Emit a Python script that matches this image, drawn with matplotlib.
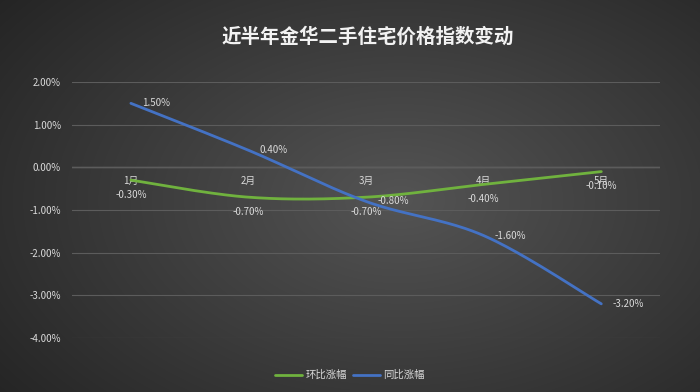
import numpy as np
import matplotlib
matplotlib.use('Agg')
import matplotlib.pyplot as plt

plt.rcParams['font.family'] = ['Noto Sans CJK SC', 'DejaVu Sans']

title = '近半年金华二手住宅价格指数变动'
months = ['1月', '2月', '3月', '4月', '5月']
hb = [-0.3, -0.7, -0.7, -0.4, -0.1]    # 环比涨幅
tb = [1.5, 0.4, -0.8, -1.6, -3.2]      # 同比涨幅
yticks = [2, 1, 0, -1, -2, -3, -4]

txt = '#d9d9d9'
green = '#70b23e'
blue = '#4472c4'


def smooth(ys, n=40):
    # excel-like bezier smoothing between the points
    p = np.column_stack([np.arange(len(ys)), ys]).astype(float)
    ext = np.vstack([p[0], p, p[-1]])
    out = []
    t = np.linspace(0, 1, n)[:, None]
    for i in range(len(p) - 1):
        p0, p1, p2, p3 = ext[i], ext[i + 1], ext[i + 2], ext[i + 3]
        c1 = p1 + (p2 - p0) / 6
        c2 = p2 - (p3 - p1) / 6
        seg = (1 - t) ** 3 * p1 + 3 * (1 - t) ** 2 * t * c1 + 3 * (1 - t) * t ** 2 * c2 + t ** 3 * p2
        out.append(seg)
    out = np.vstack(out)
    return out[:, 0], out[:, 1]


fig = plt.figure(figsize=(7, 3.92), dpi=100)

# radial gray background
bg = fig.add_axes([0, 0, 1, 1])
yy, xx = np.mgrid[0:392, 0:700]
r = np.sqrt(((xx - 400) / 520) ** 2 + ((yy - 200) / 330) ** 2)
val = np.clip(0.33 - 0.19 * r, 0.13, 0.35)
bg.imshow(np.dstack([val, val, val]), extent=[0, 700, 392, 0], aspect='auto')
bg.axis('off')

ax = fig.add_axes([0.103, 0.1378, 0.84, 0.653])
ax.set_facecolor('none')
ax.set_xlim(-0.5, 4.5)
ax.set_ylim(-4, 2)
ax.set_yticks(yticks)
ax.set_yticklabels(['%.2f%%' % v for v in yticks], color=txt, fontsize=7)
ax.tick_params(axis='y', length=0, pad=8)
ax.grid(axis='y', color='#5c5c5c', lw=0.8)
ax.axhline(0, color='#727272', lw=1.0, zorder=1)
for s in ax.spines.values():
    s.set_visible(False)
ax.spines['bottom'].set_position(('data', 0))
ax.set_xticks(range(len(months)))
ax.set_xticklabels(months, color=txt, fontsize=7)
ax.tick_params(axis='x', length=0, pad=6)

x1, y1 = smooth(hb)
x2, y2 = smooth(tb)
ax.plot(x1, y1, color=green, lw=2.0, label='环比涨幅', solid_capstyle='round', zorder=3)
ax.plot(x2, y2, color=blue, lw=2.0, label='同比涨幅', solid_capstyle='round', zorder=3)

for i, v in enumerate(hb):
    ax.annotate('%.2f%%' % v, (i, v), xytext=(0, -10.5), textcoords='offset points',
                ha='center', va='center', color=txt, fontsize=7)
for i, v in enumerate(tb):
    ax.annotate('%.2f%%' % v, (i, v), xytext=(8, 0), textcoords='offset points',
                ha='left', va='center', color=txt, fontsize=7)

fig.text(0.525, 0.906, title, ha='center', va='center', color='#f2f2f2',
         fontsize=14, fontweight='bold')

fig.legend(loc='center', bbox_to_anchor=(0.5, 0.043), ncol=2, frameon=False,
           fontsize=7.5, labelcolor=txt, handlelength=2.6, columnspacing=0.6,
           handletextpad=0.3)

fig.savefig('out.png', dpi=100)
